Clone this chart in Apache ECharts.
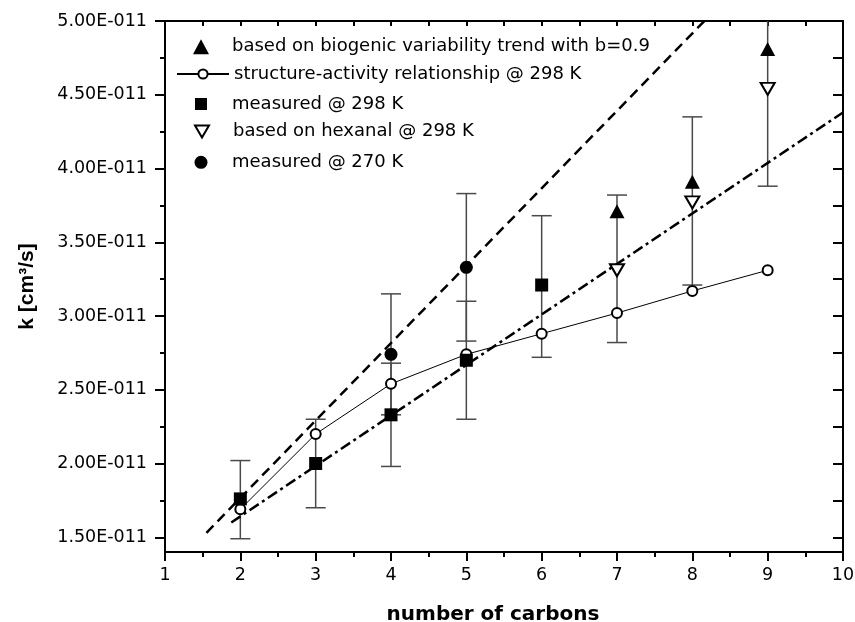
<!DOCTYPE html>
<html>
<head>
<meta charset="utf-8">
<script src="https://cdn.jsdelivr.net/npm/echarts@6/dist/echarts.min.js"></script>
<style>
html, body { margin: 0; padding: 0; background: #fff; }
#chart { width: 855px; height: 622px; }
</style>
</head>
<body>
<div id="chart"></div>
<script>
// k in units of 1E-11 cm3/s
var carbons = [2, 3, 4, 5, 6, 7, 8, 9];
var sarK = [1.69, 2.20, 2.54, 2.74, 2.88, 3.02, 3.17, 3.31];

var meas298X = [2, 3, 4, 5, 6];
var meas298K = [1.76, 2.00, 2.33, 2.70, 3.21];

var meas270X = [4, 5];
var meas270K = [2.74, 3.33];

var biogenicX = [7, 8, 9];
var biogenicK = [3.71, 3.91, 4.81];

var hexanalX = [7, 8, 9];
var hexanalK = [3.31, 3.77, 4.54];

// error bars
var errX = [2, 3, 4, 4, 5, 5, 6, 7, 8, 9];
var errLow = [1.49, 1.70, 1.98, 2.33, 2.30, 2.83, 2.72, 2.82, 3.21, 3.88];
var errHigh = [2.02, 2.30, 2.68, 3.15, 3.10, 3.83, 3.68, 3.82, 4.35, 5.20];

// trend lines, end points
var dashX = [1.55, 8.16];
var dashK = [1.53, 5.00];
var dashDotX = [1.88, 10];
var dashDotK = [1.60, 4.38];

var yMajor = [1.5, 2.0, 2.5, 3.0, 3.5, 4.0, 4.5, 5.0];
var yMinor = [1.75, 2.25, 2.75, 3.25, 3.75, 4.25, 4.75];
var yAll = [1.5, 1.75, 2.0, 2.25, 2.5, 2.75, 3.0, 3.25, 3.5, 3.75, 4.0, 4.25, 4.5, 4.75, 5.0];

var names = [
  'based on biogenic variability trend with b=0.9',
  'structure-activity relationship @ 298 K',
  'measured @ 298 K',
  'based on hexanal @ 298 K',
  'measured @ 270 K'
];
var rowCenter = [46.7, 74, 104, 131.5, 162.3];
// legend icons: path, width, height (row 2 uses the line series' own icon)
var rowIcon = [
  { icon: 'path://M0,15L8,0L16,15Z', w: 16, h: 15 },
  null,
  { icon: 'path://M0,0L12,0L12,12L0,12Z', w: 12, h: 12 },
  { icon: 'path://M0,0L14,0L7,12Z', w: 14, h: 12 },
  { icon: 'circle', w: 13, h: 13 }
];

function zip(a, b) {
  return a.map(function (v, i) { return [v, b[i]]; });
}

var FONT = 'DejaVu Sans';
var chart = echarts.init(document.getElementById('chart'));

var legends = names.map(function (n, i) {
  var ic = rowIcon[i];
  var item = { name: n };
  var left = 176, h = 11.5;
  if (ic) {
    item.icon = ic.icon;
    item.itemStyle = i === 3
      ? { color: '#fff', borderColor: '#000', borderWidth: 2 }
      : { color: '#000', borderWidth: 0 };
    // bounding box starts at the icon, which sits centred in the 52px slot
    left = 201 - ic.w / 2;
    h = ic.h;
  }
  return {
    data: [item],
    orient: 'vertical',
    left: left,
    top: rowCenter[i] - 10,
    padding: 0,
    itemWidth: 52,
    itemHeight: h,
    symbolKeepAspect: true,
    selectedMode: false,
    textStyle: { fontFamily: FONT, fontSize: 18, lineHeight: 20, color: '#000' }
  };
});

var axisLine = { show: true, onZero: false, lineStyle: { color: '#000', width: 2 } };

chart.setOption({
  animation: false,
  backgroundColor: '#fff',
  legend: legends,
  grid: { left: 165, right: 12, top: 21, bottom: 70, outerBoundsMode: 'none', containLabel: false },
  xAxis: [
    {
      type: 'value', position: 'bottom', min: 1, max: 10, interval: 1,
      axisLine: axisLine,
      axisTick: { show: true, length: 9, lineStyle: { color: '#000', width: 2 } },
      minorTick: { show: true, splitNumber: 2, length: 5, lineStyle: { color: '#000', width: 2 } },
      splitLine: { show: false },
      axisLabel: { fontFamily: FONT, fontSize: 17.5, color: '#000', margin: 14 },
      name: 'number of carbons', nameLocation: 'middle', nameGap: 53,
      nameTextStyle: { fontFamily: FONT, fontSize: 20, fontWeight: 'bold', color: '#000', padding: [0, 22, 0, 0] }
    },
    {
      type: 'value', position: 'top', min: 1, max: 10, interval: 1,
      axisLine: axisLine,
      axisTick: { show: true, inside: true, length: 5, lineStyle: { color: '#000', width: 2 } },
      minorTick: { show: true, splitNumber: 2, length: 5, lineStyle: { color: '#000', width: 2 } },
      splitLine: { show: false },
      axisLabel: { show: false }
    }
  ],
  yAxis: [
    {
      type: 'value', position: 'left', min: 1.4, max: 5.0,
      axisLine: axisLine,
      axisTick: { show: true, length: 10, customValues: yMajor, lineStyle: { color: '#000', width: 2 } },
      splitLine: { show: false },
      axisLabel: {
        customValues: yMajor, fontFamily: FONT, fontSize: 17.5, color: '#000', margin: 18,
        formatter: function (v) { return v.toFixed(2) + 'E-011'; }
      },
      name: 'k [cm³/s]', nameLocation: 'middle', nameRotate: 90, nameGap: 127,
      nameTextStyle: { fontFamily: 'Liberation Sans', fontSize: 21, fontWeight: 'bold', color: '#000' }
    },
    {
      type: 'value', position: 'left', min: 1.4, max: 5.0,
      axisLine: { show: false },
      axisTick: { show: true, length: 5, customValues: yMinor, lineStyle: { color: '#000', width: 2 } },
      splitLine: { show: false },
      axisLabel: { show: false }
    },
    {
      type: 'value', position: 'right', min: 1.4, max: 5.0,
      axisLine: axisLine,
      axisTick: { show: true, inside: true, length: 10, customValues: yAll, lineStyle: { color: '#000', width: 2 } },
      splitLine: { show: false },
      axisLabel: { show: false }
    }
  ],
  series: [
    {
      type: 'custom', name: 'errors', silent: true, z: 1,
      data: errX.map(function (x, i) { return [x, errLow[i], errHigh[i]]; }),
      encode: { x: 0, y: [1, 2] },
      renderItem: function (params, api) {
        var x = api.value(0);
        var lo = api.coord([x, api.value(1)]);
        var hi = api.coord([x, api.value(2)]);
        var top = params.coordSys.y;
        var st = { stroke: '#4a4a4a', lineWidth: 1.5 };
        var kids = [
          { type: 'line', shape: { x1: lo[0], y1: lo[1], x2: hi[0], y2: Math.max(hi[1], top) }, style: st },
          { type: 'line', shape: { x1: lo[0] - 10, y1: lo[1], x2: lo[0] + 10, y2: lo[1] }, style: st }
        ];
        if (hi[1] >= top) {
          kids.push({ type: 'line', shape: { x1: hi[0] - 10, y1: hi[1], x2: hi[0] + 10, y2: hi[1] }, style: st });
        }
        return { type: 'group', children: kids };
      }
    },
    {
      type: 'line', name: 'dash', data: zip(dashX, dashK), symbol: 'none', z: 2,
      lineStyle: { color: '#000', width: 2.5, type: [10, 6] }
    },
    {
      type: 'line', name: 'dashdot', data: zip(dashDotX, dashDotK), symbol: 'none', z: 2,
      lineStyle: { color: '#000', width: 2.5, type: [11, 4, 3, 4] }
    },
    {
      type: 'line', name: names[1], data: zip(carbons, sarK), z: 3,
      symbol: 'emptyCircle', symbolSize: 10,
      itemStyle: { color: '#000', borderWidth: 1.4 },
      lineStyle: { color: '#000', width: 1 }
    },
    {
      type: 'scatter', name: names[0], data: zip(biogenicX, biogenicK), z: 4,
      symbol: 'triangle', symbolSize: [15, 14],
      itemStyle: { color: '#000', opacity: 1 }
    },
    {
      type: 'scatter', name: names[2], data: zip(meas298X, meas298K), z: 4,
      symbol: 'rect', symbolSize: 13,
      itemStyle: { color: '#000', opacity: 1 }
    },
    {
      type: 'scatter', name: names[3], data: zip(hexanalX, hexanalK), z: 4,
      symbol: 'triangle', symbolRotate: 180, symbolSize: [14, 12],
      itemStyle: { color: '#fff', borderColor: '#000', borderWidth: 2, opacity: 1 }
    },
    {
      type: 'scatter', name: names[4], data: zip(meas270X, meas270K), z: 4,
      symbol: 'circle', symbolSize: 13,
      itemStyle: { color: '#000', opacity: 1 }
    }
  ]
});
</script>
</body>
</html>
